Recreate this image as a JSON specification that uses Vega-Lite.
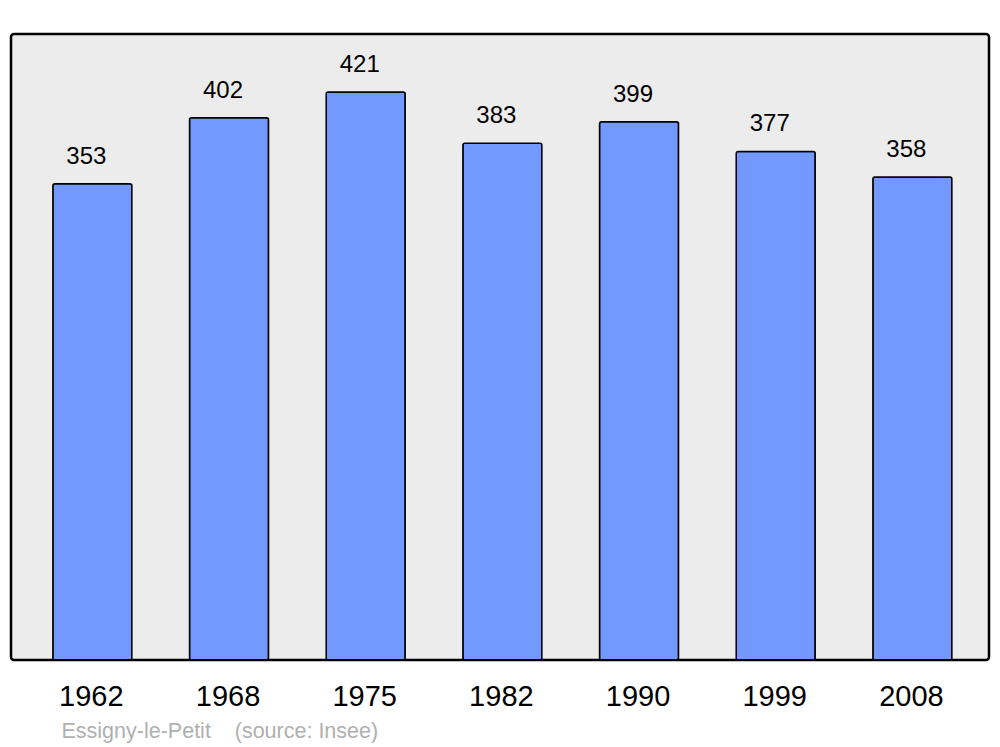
{
  "$schema": "https://vega.github.io/schema/vega-lite/v6.json",
  "width": 978,
  "height": 626,
  "autosize": {"type": "none"},
  "padding": {"left": 11, "top": 34, "right": 11, "bottom": 87},
  "background": "white",
  "config": {
    "view": {"fill": "#ececec", "stroke": "black", "strokeWidth": 2.5, "cornerRadius": 3},
    "font": "Liberation Sans"
  },
  "data": {
    "values": [
      {"year": "1962", "pop": 353},
      {"year": "1968", "pop": 402},
      {"year": "1975", "pop": 421},
      {"year": "1982", "pop": 383},
      {"year": "1990", "pop": 399},
      {"year": "1999", "pop": 377},
      {"year": "2008", "pop": 358}
    ]
  },
  "encoding": {
    "x": {
      "field": "year",
      "type": "nominal",
      "sort": null,
      "scale": {"paddingInner": 0.422, "paddingOuter": 0.289, "align": 0.53},
      "axis": {
        "title": "Essigny-le-Petit\u00a0\u00a0\u00a0\u00a0(source: Insee)",
        "titleFont": "Liberation Sans",
        "titleFontSize": 21.5,
        "titleFontWeight": "normal",
        "titleColor": "#b0b0b0",
        "titleAnchor": "start",
        "titleAlign": "left",
        "titleBaseline": "alphabetic",
        "titleX": 50,
        "titleY": 77,
        "labelAngle": 0,
        "labelFontSize": 29,
        "labelColor": "black",
        "labelFont": "Liberation Sans",
        "labelBaseline": "alphabetic",
        "labelPadding": 45,
        "labelOffset": -1,
        "ticks": false,
        "tickSize": 0,
        "domain": false,
        "grid": false
      }
    },
    "y": {
      "field": "pop",
      "type": "quantitative",
      "scale": {"domain": [0, 464], "nice": false},
      "axis": null
    }
  },
  "layer": [
    {
      "mark": {"type": "bar", "fill": "#7399ff", "stroke": "black", "strokeWidth": 1.5, "cornerRadius": 2}
    },
    {
      "mark": {"type": "text", "baseline": "alphabetic", "dy": -20, "dx": -6, "fontSize": 24, "color": "black", "font": "Liberation Sans"},
      "encoding": {"text": {"field": "pop", "type": "quantitative"}}
    }
  ]
}
